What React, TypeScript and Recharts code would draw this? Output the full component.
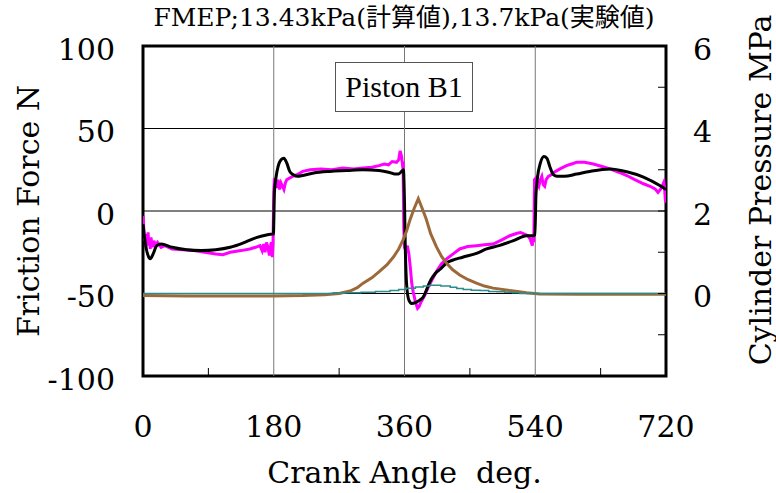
import React from 'react';
import {
  ComposedChart,
  Line,
  XAxis,
  YAxis,
  ReferenceLine,
  ReferenceArea,
} from 'recharts';

// axis ticks
const angleTicks = [0, 90, 180, 270, 360, 450, 540, 630, 720];
const forceTicks = [-100, -50, 0, 50, 100];
const pressureTicks = [-2, -1, 0, 1, 2, 3, 4, 5, 6];
const gridAngles = [180, 360, 540];
const gridForces = [-50, 0, 50];

// calculated friction force (N)
const calcAngle = [
  0, 3, 7, 10, 14, 19, 25, 40, 60, 80, 100, 120, 140, 157, 170, 178, 179.5,
  181, 183, 186, 190, 194, 198, 202, 207, 213, 220, 235, 257, 280, 303, 325,
  338, 346, 352, 356, 358.5, 360, 361, 363, 366, 370, 375, 381, 386, 391, 396,
  402, 410, 418, 425, 440, 460, 473, 490, 510, 528, 536, 539.5,
  541, 543, 547, 552, 556, 560, 565, 570, 580, 597, 615, 643, 666, 689, 712, 720,
];
const calcForce = [
  -8, -19, -27, -29, -26, -21, -20, -22, -23.5, -24, -23.5, -22, -19, -16, -14.5, -14, -14,
  12, 20, 27, 31, 32, 29, 24, 22, 21, 21.5, 23, 24, 24.5, 25, 24.5,
  23.5, 22.5, 22.5, 24, 25, 5, -20, -45, -54, -56, -55.5, -54, -52, -47, -42,
  -38, -35, -31.5, -30, -28, -25.5, -23, -21, -18, -15, -15, -14.5,
  10, 20, 29, 33, 32, 27, 22, 21, 21, 22.4, 24, 25.5, 23.8, 20.6, 15.3, 13,
];

// measured friction force (N)
const expAngle = [
  0, 1, 2, 3, 4, 5, 6, 7, 8, 9, 10, 11, 12, 13, 15, 17, 20, 25, 30, 40, 55, 70,
  85, 100, 110, 120, 135, 147, 155, 161, 164, 166, 168, 170, 172, 174, 176, 177,
  178, 179, 180, 181, 183, 185, 186, 188, 190, 192, 194, 196, 198, 202, 206, 212,
  220, 230, 245, 260, 275, 290, 303, 315, 325, 332, 338, 343, 349, 352, 354, 356,
  357, 358, 359, 360, 362, 364, 366, 368, 370, 372, 375, 378, 380, 383, 388, 394,
  400, 405, 411, 418, 427, 436, 447, 459, 470, 482, 494, 505, 515, 520, 525, 530,
  533, 536, 537, 538, 539, 541, 543, 545, 547, 549, 551, 553, 555, 558, 562, 566,
  574, 583, 590, 597, 608, 620, 632, 643, 655, 666, 677, 689, 698, 705, 709, 712,
  714, 717, 718, 719, 720,
];
const expForce = [
  -3, -10, -18, -14, -22, -16, -20, -13, -21, -17, -23, -16, -19, -22, -18, -21, -19, -22, -21, -23, -23.5, -24,
  -25, -26, -26.5, -25, -24, -23, -22, -21, -24, -20, -25, -19, -22, -27, -20, -19,
  -28, -20, 12, 20, 18, 14, 19, 13, 17, 15, 13, 17, 19, 20, 21, 22,
  24, 25, 25.5, 25, 26, 25.5, 26, 26.5, 27.5, 28.5, 28, 30, 29.5, 31, 36.5, 33,
  29, 30, -10, -22, -24, -21, -26, -34, -44, -49, -55, -59, -58, -55, -51, -45,
  -40, -36, -32, -29, -26, -23, -21.5, -21, -20.5, -20, -17.5, -15, -13.5, -13, -14, -15,
  -17, -21, -15, -19, 19, 20, 17, 15, 19, 21, 16, 15, 19, 21, 22, 23.5,
  25.5, 27.5, 28.5, 29.5, 29.5, 28.5, 27, 25.5, 23.5, 21.5, 19, 16.5, 15, 13.3, 11.3, 13,
  14.3, 17.4, 14, 7.3, 5,
];

// cylinder pressure (MPa)
const pressAngle = [
  0, 60, 120, 180, 220, 250, 270, 285, 295, 303, 315, 326, 336, 345, 352, 358,
  363, 367.5, 373, 379, 384, 390, 396, 404, 411, 418, 426, 436, 447, 459, 470,
  482, 505, 528, 546, 600, 660, 720,
];
const pressValue = [
  -0.05, -0.06, -0.06, -0.06, -0.05, -0.03, 0, 0.06, 0.14, 0.25, 0.38, 0.54, 0.7, 0.89, 1.08, 1.3,
  1.52, 1.78, 2.05, 2.3, 2.08, 1.8, 1.45, 1.13, 0.9, 0.73, 0.58, 0.45, 0.34, 0.25, 0.18,
  0.13, 0.07, 0.02, -0.01, -0.02, -0.02, -0.02,
];

// second pressure trace (MPa)
const press2Angle = [
  0, 60, 120, 180, 240, 262, 300, 320, 340, 352, 362, 375, 386, 395, 410, 423,
  432, 441, 452, 464, 476, 487, 498, 509, 519, 540, 600, 660, 720,
];
const press2Value = [
  0, 0, 0, 0, 0, 0.02, 0.03, 0.05, 0.07, 0.1, 0.13, 0.16, 0.18, 0.2, 0.18, 0.15,
  0.12, 0.1, 0.08, 0.07, 0.05, 0.04, 0.03, 0.02, 0, 0, 0, 0, 0,
];

const zip = (xs: number[], ys: number[]) => xs.map((a, i) => ({ a, v: ys[i] }));
const calcData = zip(calcAngle, calcForce);
const expData = zip(expAngle, expForce);
const pressData = zip(pressAngle, pressValue);
const press2Data = zip(press2Angle, press2Value);

const SERIF = '"DejaVu Serif", serif';
const FS = 30;
const LEFT_MARGIN = 28;
const RIGHT_MARGIN = 27;
const BOTTOM_MARGIN = 61;

function ForceTick(props: any) {
  const { x, y, payload } = props;
  return (
    <text x={x} y={y} dy="0.45em" textAnchor="end" fontSize={FS} fontFamily={SERIF} fill="#000">
      {payload.value}
    </text>
  );
}

function PressureTick(props: any) {
  const { x, y, payload } = props;
  const v = payload.value;
  const axisX = x - RIGHT_MARGIN;
  const inner = v > -2 && v < 6;
  const labelled = v >= 0 && v % 2 === 0;
  return (
    <g>
      {inner && <line x1={axisX - 8} x2={axisX} y1={y} y2={y} stroke="#000" strokeWidth={1} />}
      {labelled && (
        <text x={x} y={y} dy="0.45em" textAnchor="start" fontSize={FS} fontFamily={SERIF} fill="#000">
          {v}
        </text>
      )}
    </g>
  );
}

function AngleTick(props: any) {
  const { x, y, payload } = props;
  const v = payload.value;
  const axisY = y - BOTTOM_MARGIN;
  if (v % 180 !== 0) {
    return <line x1={x} x2={x} y1={axisY - 8} y2={axisY} stroke="#000" strokeWidth={1} />;
  }
  return (
    <text x={x} y={y} textAnchor="middle" fontSize={FS} fontFamily={SERIF} fill="#000">
      {v}
    </text>
  );
}

const axisTitle = (text: string, dx: number, dy: number, rotate: number) => (props: any) => {
  const vb = props.viewBox || {};
  const cx = vb.x + dx;
  const cy = vb.y + dy;
  return (
    <text
      x={cx}
      y={cy}
      textAnchor="middle"
      dominantBaseline={rotate ? 'central' : 'auto'}
      transform={rotate ? `rotate(${rotate} ${cx} ${cy})` : undefined}
      fontSize={FS}
      fontFamily={SERIF}
      fill="#000"
      style={{ whiteSpace: 'pre' }}
    >
      {text}
    </text>
  );
};

export default function App() {
  return (
    <div style={{ position: 'absolute', left: 0, top: 0, width: 776, height: 493, background: '#fff' }}>
      <div
        style={{
          position: 'absolute',
          left: 0,
          width: 808,
          top: 4,
          textAlign: 'center',
          fontFamily: '"DejaVu Serif", "Noto Sans CJK JP", serif',
          fontSize: 25,
          lineHeight: '28px',
          color: '#000',
          whiteSpace: 'nowrap',
        }}
      >
        FMEP;13.43kPa(計算値),13.7kPa(実験値)
      </div>
      <ComposedChart width={776} height={493} margin={{ top: 46, right: 0, bottom: 0, left: 0 }}>
        <XAxis
          xAxisId="a"
          dataKey="a"
          type="number"
          domain={[0, 720]}
          ticks={angleTicks}
          interval={0}
          allowDataOverflow
          axisLine={false}
          tickLine={false}
          tickSize={0}
          tickMargin={BOTTOM_MARGIN}
          tick={<AngleTick />}
          height={117}
          label={{ content: axisTitle('Crank Angle  deg.', 261.5, 107, 0) }}
        />
        <YAxis
          yAxisId="f"
          type="number"
          domain={[-100, 100]}
          ticks={forceTicks}
          interval={0}
          allowDataOverflow
          axisLine={false}
          tickLine={false}
          tickSize={0}
          tickMargin={LEFT_MARGIN}
          tick={<ForceTick />}
          width={143}
          label={{ content: axisTitle('Friction Force N', 28, 165, -90) }}
        />
        <YAxis
          yAxisId="p"
          orientation="right"
          type="number"
          domain={[-2, 6]}
          ticks={pressureTicks}
          interval={0}
          allowDataOverflow
          axisLine={false}
          tickLine={false}
          tickSize={0}
          tickMargin={RIGHT_MARGIN}
          tick={<PressureTick />}
          width={110}
          label={{ content: axisTitle('Cylinder Pressure MPa', 94, 144, -90) }}
        />
        {gridForces.map((f) => (
          <ReferenceLine key={`h${f}`} xAxisId="a" yAxisId="f" y={f} stroke="#000" strokeWidth={1} />
        ))}
        {gridAngles.map((g) => (
          <ReferenceLine key={`v${g}`} xAxisId="a" yAxisId="f" x={g} stroke="#777" strokeWidth={1} />
        ))}
        <Line
          xAxisId="a"
          yAxisId="f"
          data={expData}
          dataKey="v"
          type="linear"
          stroke="#ff00ff"
          strokeWidth={3}
          dot={false}
          isAnimationActive={false}
        />
        <Line
          xAxisId="a"
          yAxisId="f"
          data={calcData}
          dataKey="v"
          type="monotone"
          stroke="#000"
          strokeWidth={3}
          dot={false}
          isAnimationActive={false}
        />
        <Line
          xAxisId="a"
          yAxisId="p"
          data={pressData}
          dataKey="v"
          type="linear"
          stroke="#9c6a3a"
          strokeWidth={3}
          dot={false}
          isAnimationActive={false}
        />
        <Line
          xAxisId="a"
          yAxisId="p"
          data={press2Data}
          dataKey="v"
          type="stepAfter"
          stroke="#2a8c8c"
          strokeWidth={1.5}
          dot={false}
          isAnimationActive={false}
        />
        <ReferenceArea
          xAxisId="a"
          yAxisId="f"
          x1={0}
          x2={720}
          y1={-100}
          y2={100}
          fill="none"
          stroke="#000"
          strokeWidth={3}
          ifOverflow="visible"
        />
      </ComposedChart>
      <div
        style={{
          position: 'absolute',
          left: 335,
          top: 62,
          width: 136,
          height: 48,
          border: '1px solid #555',
          background: '#fff',
          display: 'flex',
          alignItems: 'center',
          justifyContent: 'center',
          fontFamily: '"Liberation Serif", serif',
          fontSize: 30,
          color: '#000',
        }}
      >
        Piston B1
      </div>
    </div>
  );
}
